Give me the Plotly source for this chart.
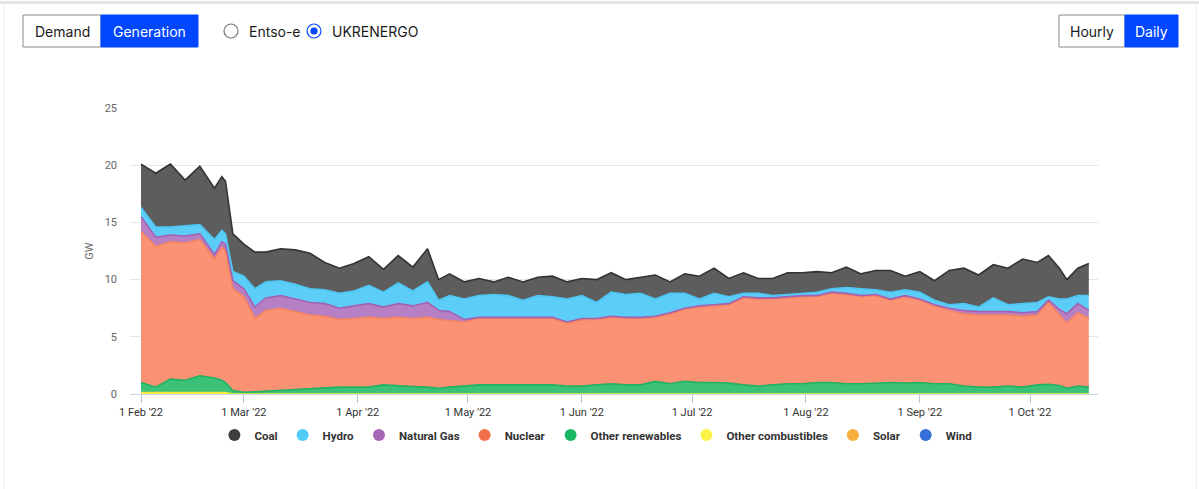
import plotly.graph_objects as go

# ---------------- data (GW, daily generation, UKRENERGO) ----------------
dates = ["2022-02-01", "2022-02-05", "2022-02-09", "2022-02-13", "2022-02-17", "2022-02-21",
         "2022-02-23", "2022-02-24", "2022-02-26", "2022-03-01",
         "2022-03-04", "2022-03-07", "2022-03-11", "2022-03-15", "2022-03-19", "2022-03-23",
         "2022-03-27", "2022-03-31",
         "2022-04-04", "2022-04-08", "2022-04-12", "2022-04-16", "2022-04-20", "2022-04-23",
         "2022-04-26", "2022-04-30",
         "2022-05-04", "2022-05-08", "2022-05-12", "2022-05-16", "2022-05-20", "2022-05-24",
         "2022-05-28",
         "2022-06-01", "2022-06-05", "2022-06-09", "2022-06-13", "2022-06-17", "2022-06-21",
         "2022-06-25", "2022-06-29",
         "2022-07-03", "2022-07-07", "2022-07-11", "2022-07-15", "2022-07-19", "2022-07-23",
         "2022-07-27", "2022-07-31",
         "2022-08-04", "2022-08-08", "2022-08-12", "2022-08-16", "2022-08-20", "2022-08-24",
         "2022-08-28",
         "2022-09-01", "2022-09-05", "2022-09-09", "2022-09-13", "2022-09-17", "2022-09-21",
         "2022-09-25", "2022-09-29",
         "2022-10-03", "2022-10-06", "2022-10-09", "2022-10-11", "2022-10-14", "2022-10-17"]

coal = [3.8, 4.7, 5.5, 4.0, 5.1, 4.5, 4.7, 4.6, 3.3, 2.8,
        3.2, 2.6, 2.8, 3.0, 3.1, 2.4, 2.2, 2.4,
        2.5, 2.0, 2.4, 2.1, 2.9, 1.8, 1.9, 1.5,
        1.5, 1.1, 1.6, 1.6, 1.6, 1.8, 1.5,
        1.5, 2.0, 1.7, 1.3, 1.4, 2.1, 1.0, 1.7,
        2.0, 2.2, 1.6, 1.8, 1.3, 1.5, 1.9, 1.8,
        1.8, 1.4, 1.8, 1.3, 1.7, 1.9, 1.2,
        1.8, 1.7, 3.0, 3.1, 2.8, 2.9, 3.2, 3.9,
        3.5, 3.6, 2.7, 1.7, 2.4, 2.8]

hydro = [0.8, 0.9, 0.7, 0.9, 0.8, 1.3, 1.0, 0.9, 0.8, 1.1,
         1.6, 1.4, 1.3, 1.3, 1.2, 1.2, 1.3, 1.3,
         1.6, 1.3, 1.8, 1.3, 1.8, 0.9, 1.4, 1.8,
         1.9, 2.0, 1.9, 1.5, 1.9, 1.8, 2.0,
         2.0, 1.4, 2.1, 2.0, 2.1, 1.5, 1.7, 1.3,
         0.6, 1.0, 0.6, 0.3, 0.4, 0.2, 0.2, 0.2,
         0.3, 0.3, 0.5, 0.6, 0.4, 0.6, 0.5,
         0.6, 0.4, 0.3, 0.6, 0.4, 1.2, 0.6, 0.8,
         0.8, 0.3, 0.9, 1.3, 0.7, 1.3]

natural_gas = [1.3, 0.8, 0.6, 0.6, 0.5, 0.4, 0.5, 0.6, 0.7, 0.7,
               1.0, 1.1, 1.1, 1.1, 1.1, 1.1, 1.0, 1.1,
               1.2, 1.0, 1.2, 1.1, 1.3, 0.8, 0.8, 0.2,
               0.1, 0.1, 0.1, 0.1, 0.1, 0.1, 0.1,
               0.1, 0.1, 0.1, 0.1, 0.1, 0.1, 0.1, 0.1,
               0.1, 0.1, 0.1, 0.1, 0.1, 0.1, 0.1, 0.1,
               0.1, 0.1, 0.1, 0.1, 0.1, 0.1, 0.1,
               0.1, 0.1, 0.2, 0.3, 0.3, 0.3, 0.3, 0.3,
               0.3, 0.2, 0.5, 0.8, 0.8, 0.7]

nuclear = [13.2, 12.3, 12.0, 12.0, 11.9, 10.4, 11.6, 11.5, 8.9, 8.35,
           6.4, 7.05, 7.2, 6.85, 6.45, 6.3, 5.9, 6.0,
           6.1, 5.8, 6.0, 5.95, 6.1, 6.0, 5.8, 5.6,
           5.8, 5.8, 5.8, 5.85, 5.8, 5.8, 5.5,
           5.8, 5.7, 5.8, 5.8, 5.8, 5.6, 6.1, 6.3,
           6.6, 6.7, 6.85, 7.6, 7.6, 7.5, 7.5, 7.6,
           7.5, 7.8, 7.8, 7.6, 7.65, 7.2, 7.55,
           7.2, 6.8, 6.4, 6.3, 6.3, 6.3, 6.2, 6.2,
           6.1, 7.15, 6.15, 5.7, 6.4, 6.0]

other_renewables = [0.88, 0.48, 1.18, 1.08, 1.48, 1.28, 1.08, 0.88, 0.3, 0.15,
                    0.2, 0.25, 0.3, 0.35, 0.45, 0.5, 0.6, 0.6,
                    0.6, 0.8, 0.7, 0.65, 0.6, 0.5, 0.6, 0.7,
                    0.8, 0.8, 0.8, 0.75, 0.8, 0.8, 0.7,
                    0.7, 0.8, 0.9, 0.8, 0.8, 1.1, 0.9, 1.1,
                    1.0, 1.0, 0.95, 0.8, 0.7, 0.8, 0.9, 0.9,
                    1.0, 1.0, 0.9, 0.9, 0.95, 1.0, 0.95,
                    1.0, 0.9, 0.9, 0.7, 0.6, 0.6, 0.7, 0.6,
                    0.8, 0.85, 0.75, 0.5, 0.7, 0.6]

other_combustibles = [0.12, 0.12, 0.12, 0.12, 0.12, 0.12, 0.12, 0.12, 0, 0,
                      0, 0, 0, 0, 0, 0, 0, 0,
                      0, 0, 0, 0, 0, 0, 0, 0,
                      0, 0, 0, 0, 0, 0, 0,
                      0, 0, 0, 0, 0, 0, 0, 0,
                      0, 0, 0, 0, 0, 0, 0, 0,
                      0, 0, 0, 0, 0, 0, 0,
                      0, 0, 0, 0, 0, 0, 0, 0,
                      0, 0, 0, 0, 0, 0]

solar = [0] * len(dates)
wind = [0] * len(dates)

# name, values, fill colour, line colour, legend colour
series = [
    ("Coal", coal, "rgba(84,84,84,0.95)", "#333333", "#3d3d3d"),
    ("Hydro", hydro, "rgba(92,205,246,1)", "#4cc6f2", "#4fcbf7"),
    ("Natural Gas", natural_gas, "rgba(184,128,196,1)", "#a461b4", "#a867b6"),
    ("Nuclear", nuclear, "rgba(251,146,115,1)", "#f5845f", "#f4704a"),
    ("Other renewables", other_renewables, "rgba(60,194,120,1)", "#1fb262", "#1ab862"),
    ("Other combustibles", other_combustibles, "rgba(250,242,80,1)", "#f3e83a", "#fbf448"),
    ("Solar", solar, "rgba(247,174,61,1)", "#f7ae3d", "#f7ae3d"),
    ("Wind", wind, "rgba(54,112,216,1)", "#3670d8", "#3670d8"),
]

W, H = 1199, 489


def px(x):
    return x / W


def py(y):
    return 1 - y / H


fig = go.Figure()

# stacked areas, bottom-up
for name, vals, fill, line, _ in reversed(series):
    zero = all(v == 0 for v in vals)
    fig.add_trace(go.Scatter(
        x=dates, y=vals, name=name, stackgroup="one", mode="lines",
        line=dict(color=line, width=0 if zero else 1.6, shape="linear"),
        fillcolor=fill, showlegend=False, hoverinfo="skip"))

# legend entries with round markers
for name, _, _, _, lc in series:
    fig.add_trace(go.Scatter(
        x=[None], y=[None], mode="markers", name=name,
        marker=dict(size=12, color=lc, symbol="circle")))

BLUE = "#0047ff"
shapes = []
annotations = []

# container outline
shapes.append(dict(type="line", xref="paper", yref="paper", x0=0, x1=1,
                   y0=py(2.5), y1=py(2.5), line=dict(color="#e4e4e4", width=3)))
shapes.append(dict(type="line", xref="paper", yref="paper", x0=px(4), x1=px(4),
                   y0=py(4), y1=0, line=dict(color="#f0f0f0", width=1)))
shapes.append(dict(type="line", xref="paper", yref="paper", x0=px(1196.5), x1=px(1196.5),
                   y0=py(4), y1=0, line=dict(color="#f0f0f0", width=1)))


def button(x0, x1, label, active):
    shapes.append(dict(type="rect", xref="paper", yref="paper",
                       x0=px(x0), x1=px(x1), y0=py(47), y1=py(15),
                       fillcolor=BLUE if active else "white",
                       line=dict(color=BLUE if active else "#8a8a8a", width=1)))
    annotations.append(dict(xref="paper", yref="paper", x=px((x0 + x1) / 2), y=py(31),
                            text=label, showarrow=False, xanchor="center", yanchor="middle",
                            font=dict(family="Inter, Roboto, sans-serif", size=14,
                                      color="white" if active else "#1a1a1a")))


button(23, 101, "Demand", False)
button(101, 198, "Generation", True)
button(1059, 1125, "Hourly", False)
button(1125, 1178, "Daily", True)


def radio(cx, label, checked):
    shapes.append(dict(type="circle", xref="paper", yref="paper",
                       x0=px(cx - 7), x1=px(cx + 7), y0=py(38), y1=py(24),
                       line=dict(color=BLUE if checked else "#767676", width=1.2),
                       fillcolor="white"))
    if checked:
        shapes.append(dict(type="circle", xref="paper", yref="paper",
                           x0=px(cx - 3.6), x1=px(cx + 3.6), y0=py(34.6), y1=py(27.4),
                           line=dict(color=BLUE, width=0), fillcolor=BLUE))
    annotations.append(dict(xref="paper", yref="paper", x=px(cx + 16), y=py(31),
                            text=label, showarrow=False, xanchor="left", yanchor="middle",
                            font=dict(family="Inter, Roboto, sans-serif", size=14,
                                      color="#1a1a1a")))


radio(231, "Entso-e", False)
radio(314, "UKRENERGO", True)

fig.update_layout(
    width=W, height=H,
    margin=dict(l=0, r=0, t=0, b=0, pad=0, autoexpand=False),
    paper_bgcolor="white", plot_bgcolor="white",
    shapes=shapes, annotations=annotations,
    showlegend=True,
    legend=dict(orientation="h", traceorder="normal",
                x=0.497, xanchor="center", y=py(435), yanchor="middle",
                font=dict(family="Roboto, sans-serif", size=11.5, color="#333333", weight=700),
                itemclick=False, itemdoubleclick=False, tracegroupgap=0,
                bgcolor="rgba(0,0,0,0)"),
    xaxis=dict(
        domain=[px(130), px(1098)],
        range=["2022-01-29", "2022-10-19 12:00"],
        type="date", automargin=False,
        tickvals=["2022-02-01", "2022-03-01", "2022-04-01", "2022-05-01", "2022-06-01",
                  "2022-07-01", "2022-08-01", "2022-09-01", "2022-10-01"],
        tickformat="%-d %b '%y",
        ticks="outside", ticklen=8, tickcolor="#b8c2d6", tickwidth=1,
        showline=True, linecolor="#ccd6eb", linewidth=1,
        showgrid=False, zeroline=False,
        tickfont=dict(family="Roboto, sans-serif", size=11, color="#333333"),
    ),
    yaxis=dict(
        domain=[py(394), py(108)],
        range=[0, 25], automargin=False,
        tickvals=[0, 5, 10, 15, 20, 25],
        showgrid=True, gridcolor="#e6e6e6", gridwidth=1,
        zeroline=False, showline=False,
        ticks="", ticklabelstandoff=12,
        tickfont=dict(family="Roboto, sans-serif", size=11, color="#666666"),
        title=dict(text="GW", standoff=8,
                   font=dict(family="Roboto, sans-serif", size=11, color="#666666")),
    ),
)

fig.write_html("out.html", config={"displayModeBar": False},
               post_script="document.body.style.margin='0';document.body.style.overflow='hidden';")
